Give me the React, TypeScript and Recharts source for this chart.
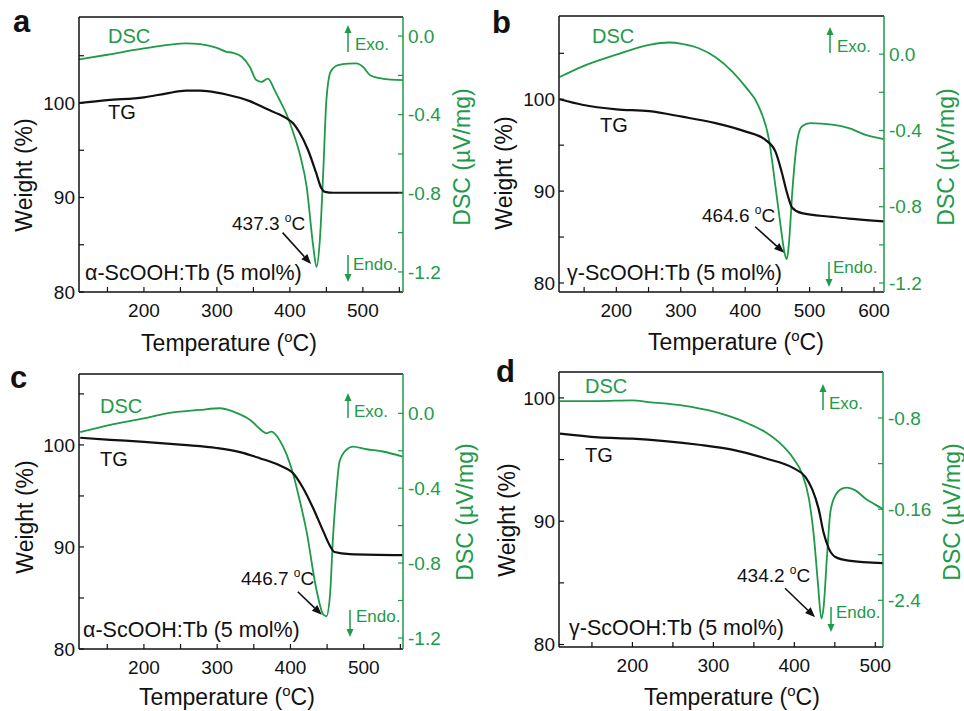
import React from 'react';
import { ComposedChart, Line, XAxis, YAxis, ReferenceLine, Customized } from 'recharts';

const GREEN = '#1e9a48';
const BLACK = '#111111';
const FONT = '"Liberation Sans", Arial, sans-serif';

// ---------- Panel a : alpha-ScOOH:Tb ----------
const aTgT = [111, 150, 200, 230, 258, 277, 300, 313, 345, 370, 385, 395, 405, 413, 425, 436, 443, 448, 460, 500, 555];
const aTgW = [100.0, 100.3, 100.6, 101.0, 101.3, 101.3, 101.1, 100.9, 100.2, 99.3, 98.8, 98.4, 97.8, 96.9, 95.0, 92.6, 91.0, 90.6, 90.5, 90.5, 90.5];
const aDscT = [111, 150, 200, 258, 277, 300, 313, 322, 334, 345, 354, 361, 370, 379, 386, 395, 405, 414, 423, 432, 436.5, 441, 446, 450, 456, 466, 480, 491, 500, 510, 526, 555];
const aDscV = [-0.119, -0.095, -0.063, -0.037, -0.041, -0.06, -0.08, -0.085, -0.105, -0.156, -0.224, -0.233, -0.216, -0.275, -0.326, -0.394, -0.496, -0.606, -0.767, -1.07, -1.175, -1.04, -0.666, -0.326, -0.18, -0.148, -0.14, -0.139, -0.156, -0.199, -0.216, -0.224];

// ---------- Panel b : gamma-ScOOH:Tb ----------
const bTgT = [112, 147, 200, 251, 302, 354, 400, 431, 447, 457, 465, 473, 488, 535, 561, 615];
const bTgW = [100.0, 99.4, 98.9, 98.7, 98.1, 97.4, 96.5, 95.6, 94.3, 92.0, 89.8, 88.2, 87.6, 87.2, 87.0, 86.7];
const bDscT = [112, 147, 200, 251, 282, 302, 328, 354, 380, 400, 421, 437, 447, 455, 461, 464.6, 468, 473, 481, 488, 501, 535, 561, 587, 615];
const bDscV = [-0.12, -0.065, -0.003, 0.049, 0.061, 0.054, 0.031, -0.016, -0.091, -0.169, -0.274, -0.449, -0.693, -0.9, -1.04, -1.075, -0.99, -0.728, -0.449, -0.379, -0.362, -0.37, -0.388, -0.423, -0.445];

// ---------- Panel c : alpha-ScOOH:Tb ----------
const cTgT = [113, 154, 200, 254, 299, 331, 358, 385, 404, 417, 431, 445, 454, 460, 481, 553];
const cTgW = [100.7, 100.5, 100.3, 100.0, 99.7, 99.3, 98.7, 98.0, 97.2, 95.8, 93.8, 91.5, 90.1, 89.5, 89.3, 89.2];
const cDscT = [113, 154, 200, 231, 276, 304, 322, 345, 363, 367, 374, 385, 395, 404, 413, 422, 435, 445, 449, 454, 458, 463, 467, 476, 485, 504, 526, 553];
const cDscV = [-0.101, -0.062, -0.027, 0.0, 0.018, 0.027, 0.009, -0.036, -0.098, -0.107, -0.098, -0.142, -0.222, -0.329, -0.471, -0.631, -0.933, -1.076, -1.084, -0.969, -0.667, -0.4, -0.258, -0.196, -0.178, -0.192, -0.204, -0.231];

// ---------- Panel d : gamma-ScOOH:Tb ----------
const dTgT = [110.5, 158, 200, 240, 282, 323, 364, 399, 413.6, 422, 430, 436, 442.5, 450.7, 467, 509.7];
const dTgW = [97.1, 96.8, 96.7, 96.5, 96.2, 95.8, 95.1, 94.3, 93.6, 92.6, 91.0, 89.1, 87.8, 87.1, 86.8, 86.6];
const dDscT = [110.5, 158, 200, 220, 261, 302, 343.5, 364, 385, 399, 409.5, 418, 424, 429, 433.4, 436, 440.4, 444.5, 450.7, 459, 465, 475.5, 488, 500, 509.7];
const dDscV = [-0.651, -0.651, -0.645, -0.66, -0.689, -0.747, -0.85, -0.923, -1.04, -1.157, -1.288, -1.508, -1.83, -2.239, -2.56, -2.47, -2.005, -1.625, -1.479, -1.42, -1.411, -1.435, -1.508, -1.56, -1.6];

// ---------- tick values / labels ----------
const xTicksA = [150, 200, 250, 300, 350, 400, 450, 500, 550];
const xTicksB = [150, 200, 250, 300, 350, 400, 450, 500, 550, 600];
const xTicksD = [150, 200, 250, 300, 350, 400, 450, 500];
const wTicks = [80, 85, 90, 95, 100, 105];
const wTicksD = [80, 85, 90, 95, 100];
const dscTicksABC = [-1.2, -1.0, -0.8, -0.6, -0.4, -0.2, 0.0];
const dscMajorABC = [-1.2, -0.8, -0.4, 0.0];
const dscLabelsABC = ['-1.2', '-0.8', '-0.4', '0.0'];
const dscTicksD = [-2.4, -2.0, -1.6, -1.2, -0.8];
const dscMajorD = [-2.4, -1.6, -0.8];
const dscLabelsD = ['-2.4', '-0.16', '-0.8'];

const peakLabels = ['437.3', '464.6', '446.7', '434.2'];
const sampleLabels = ['\u03b1-ScOOH:Tb (5 mol%)', '\u03b3-ScOOH:Tb (5 mol%)', '\u03b1-ScOOH:Tb (5 mol%)', '\u03b3-ScOOH:Tb (5 mol%)'];
const panelLetters = ['a', 'b', 'c', 'd'];

const zip = (xs: number[], ys: number[]) => xs.map((x, i) => ({ x, y: ys[i] }));

const panels = [
  {
    left: 0, top: 0, margin: { top: 17, right: 19, bottom: 24, left: 19 },
    xDomain: [111, 555], wDomain: [80, 109.1], dDomain: [-1.302, 0.097],
    xTicks: xTicksA, wTicks, dTicks: dscTicksABC, dMajor: dscMajorABC, dLabels: dscLabelsABC,
    tg: zip(aTgT, aTgW), dsc: zip(aDscT, aDscV),
    arrow: [{ x: 390, y: -1.0 }, { x: 429, y: -1.16 }],
    peakPos: [232, 230], samplePos: [85, 280], dscPos: [108, 43], tgPos: [108, 119],
    exo: [348, 52, 25], exoText: [355, 50], endo: [348, 255, 282], endoText: [353, 270],
    letterPos: [13, 32], tempPos: [229, 351], weightPos: [32, 175], dscTitlePos: [470, 157],
  },
  {
    left: 482, top: 0, margin: { top: 16, right: 20, bottom: 24, left: 17 },
    xDomain: [111, 615.5], wDomain: [79.02, 109.06], dDomain: [-1.247, 0.2],
    xTicks: xTicksB, wTicks, dTicks: dscTicksABC, dMajor: dscMajorABC, dLabels: dscLabelsABC,
    tg: zip(bTgT, bTgW), dsc: zip(bDscT, bDscV),
    arrow: [{ x: 415.5, y: -0.905 }, { x: 460.5, y: -1.041 }],
    peakPos: [220, 222], samplePos: [85, 280], dscPos: [110, 43], tgPos: [118, 132],
    exo: [348, 53, 27], exoText: [355, 52], endo: [347, 262, 287], endoText: [351, 273],
    letterPos: [10, 33], tempPos: [254, 350], weightPos: [30, 173], dscTitlePos: [472, 157],
  },
  {
    left: 0, top: 355, margin: { top: 19, right: 19, bottom: 22, left: 19 },
    xDomain: [111.4, 553.6], wDomain: [80, 106.95], dDomain: [-1.259, 0.21],
    xTicks: xTicksA, wTicks, dTicks: dscTicksABC, dMajor: dscMajorABC, dLabels: dscLabelsABC,
    tg: zip(cTgT, cTgW), dsc: zip(cDscT, cDscV),
    arrow: [{ x: 410, y: -0.953 }, { x: 442.8, y: -1.076 }],
    peakPos: [241, 230], samplePos: [83, 282], dscPos: [100, 58], tgPos: [100, 111],
    exo: [348, 63, 38], exoText: [354, 62], endo: [350, 255, 282], endoText: [356, 267],
    letterPos: [10, 33], tempPos: [227, 350], weightPos: [33, 162], dscTitlePos: [473, 157],
  },
  {
    left: 482, top: 355, margin: { top: 17, right: 21, bottom: 24, left: 17 },
    xDomain: [109.3, 509.5], wDomain: [79.8, 102.1], dDomain: [-2.81, -0.396],
    xTicks: xTicksD, wTicks: wTicksD, dTicks: dscTicksD, dMajor: dscMajorD, dLabels: dscLabelsD,
    tg: zip(dTgT, dTgW), dsc: zip(dDscT, dDscV),
    arrow: [{ x: 388.5, y: -2.294 }, { x: 425.6, y: -2.548 }],
    peakPos: [255, 227], samplePos: [87, 280], dscPos: [103, 38], tgPos: [103, 107],
    exo: [341, 55, 29], exoText: [347, 54], endo: [349, 252, 277], endoText: [354, 263],
    letterPos: [14, 27], tempPos: [250, 350], weightPos: [33, 165], dscTitlePos: [478, 157],
  },
];

const ArrowShape = (props: any) => {
  const { x1, y1, x2, y2 } = props;
  if ([x1, y1, x2, y2].some((v) => typeof v !== 'number' || isNaN(v))) return null;
  const ang = Math.atan2(y2 - y1, x2 - x1);
  const L = 10, W = 4;
  const bx = x2 - L * Math.cos(ang), by = y2 - L * Math.sin(ang);
  const px = -Math.sin(ang) * W, py = Math.cos(ang) * W;
  return (
    <g>
      <line x1={x1} y1={y1} x2={bx} y2={by} stroke={BLACK} strokeWidth={1.6} />
      <polygon points={`${x2},${y2} ${bx + px},${by + py} ${bx - px},${by - py}`} fill={BLACK} />
    </g>
  );
};

const VArrow = ({ x, y0, y1 }: { x: number; y0: number; y1: number }) => {
  const dir = y1 < y0 ? -1 : 1;
  const hb = y1 - dir * 8;
  return (
    <g>
      <line x1={x} y1={y0} x2={x} y2={hb} stroke={GREEN} strokeWidth={1.5} />
      <polygon points={`${x},${y1} ${x - 3.5},${hb} ${x + 3.5},${hb}`} fill={GREEN} />
    </g>
  );
};

const Decor = ({ p, i }: { p: any; i: number }) => (
  <g fontFamily={FONT}>
    <text x={p.letterPos[0]} y={p.letterPos[1]} fontSize={31} fontWeight="bold" fill={BLACK}>{panelLetters[i]}</text>
    <text x={p.dscPos[0]} y={p.dscPos[1]} fontSize={20} fill={GREEN}>DSC</text>
    <text x={p.tgPos[0]} y={p.tgPos[1]} fontSize={20} fill={BLACK}>TG</text>
    <text x={p.peakPos[0]} y={p.peakPos[1]} fontSize={19} fill={BLACK}>
      {peakLabels[i] + ' '}
      <tspan fontSize={12} dy={-8}>o</tspan>
      <tspan fontSize={19} dy={8}>C</tspan>
    </text>
    <text x={p.samplePos[0]} y={p.samplePos[1]} fontSize={21.5} fill={BLACK}>{sampleLabels[i]}</text>
    <VArrow x={p.exo[0]} y0={p.exo[1]} y1={p.exo[2]} />
    <text x={p.exoText[0]} y={p.exoText[1]} fontSize={17} fill={GREEN}>Exo.</text>
    <VArrow x={p.endo[0]} y0={p.endo[1]} y1={p.endo[2]} />
    <text x={p.endoText[0]} y={p.endoText[1]} fontSize={17} fill={GREEN}>Endo.</text>
    <text x={p.tempPos[0]} y={p.tempPos[1]} fontSize={23} fill={BLACK} textAnchor="middle">
      Temperature (<tspan fontSize={15} dy={-9}>o</tspan><tspan fontSize={23} dy={9}>C)</tspan>
    </text>
    <text x={p.weightPos[0]} y={p.weightPos[1]} fontSize={23} fill={BLACK} textAnchor="middle"
      transform={`rotate(-90, ${p.weightPos[0]}, ${p.weightPos[1]})`}>Weight (%)</text>
    <text x={p.dscTitlePos[0]} y={p.dscTitlePos[1]} fontSize={23} fill={GREEN} textAnchor="middle"
      transform={`rotate(-90, ${p.dscTitlePos[0]}, ${p.dscTitlePos[1]})`}>DSC ({'\u00b5'}V/mg)</text>
  </g>
);

const Panel = ({ p, i }: { p: any; i: number }) => {
  const dFmt = (v: number) => {
    const k = p.dMajor.findIndex((m: number) => Math.abs(m - v) < 1e-6);
    return k >= 0 ? p.dLabels[k] : '';
  };
  return (
    <div style={{ position: 'absolute', left: p.left, top: p.top, width: 482, height: 356 }}>
      <ComposedChart width={482} height={356} margin={p.margin}>
        <XAxis xAxisId="x" type="number" dataKey="x" domain={p.xDomain} ticks={p.xTicks} interval={0}
          allowDataOverflow height={40} tickSize={-5} tickMargin={17}
          axisLine={{ stroke: BLACK, strokeWidth: 1.5 }} tickLine={{ stroke: BLACK, strokeWidth: 1.2 }}
          tick={{ fill: BLACK, fontSize: 19, fontFamily: FONT }}
          tickFormatter={(v: number) => (v % 100 === 0 ? String(v) : '')} />
        <YAxis yAxisId="tg" orientation="left" type="number" domain={p.wDomain} ticks={p.wTicks} interval={0}
          allowDataOverflow width={60} tickSize={-5} tickMargin={9}
          axisLine={{ stroke: BLACK, strokeWidth: 1.5 }} tickLine={{ stroke: BLACK, strokeWidth: 1.2 }}
          tick={{ fill: BLACK, fontSize: 19, fontFamily: FONT }}
          tickFormatter={(v: number) => (v % 10 === 0 ? String(v) : '')} />
        <YAxis yAxisId="dsc" orientation="right" type="number" domain={p.dDomain} ticks={p.dTicks} interval={0}
          allowDataOverflow width={60} tickSize={-5} tickMargin={10}
          axisLine={{ stroke: GREEN, strokeWidth: 1.5 }} tickLine={{ stroke: GREEN, strokeWidth: 1.2 }}
          tick={{ fill: GREEN, fontSize: 19, fontFamily: FONT }}
          tickFormatter={dFmt} />
        <ReferenceLine xAxisId="x" yAxisId="tg" y={p.wDomain[1]} stroke={BLACK} strokeWidth={1.5} ifOverflow="visible" />
        <Line data={p.dsc} dataKey="y" xAxisId="x" yAxisId="dsc" type="monotone" dot={false}
          stroke={GREEN} strokeWidth={1.8} isAnimationActive={false} />
        <Line data={p.tg} dataKey="y" xAxisId="x" yAxisId="tg" type="monotone" dot={false}
          stroke={BLACK} strokeWidth={2.2} isAnimationActive={false} />
        <ReferenceLine xAxisId="x" yAxisId="dsc" segment={p.arrow} ifOverflow="visible" shape={ArrowShape} />
        <Customized component={<Decor p={p} i={i} />} />
      </ComposedChart>
    </div>
  );
};

export default function App() {
  return (
    <div style={{ position: 'absolute', left: 0, top: 0, width: 964, height: 711, background: '#fff' }}>
      {panels.map((p, i) => <Panel key={i} p={p} i={i} />)}
    </div>
  );
}
